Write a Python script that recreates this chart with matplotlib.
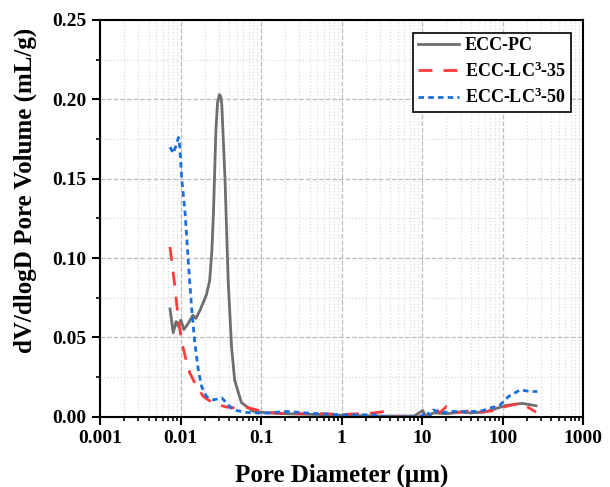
import matplotlib
matplotlib.use('Agg')
import matplotlib.pyplot as plt
from matplotlib.ticker import LogLocator, MultipleLocator, FixedLocator

plt.rcParams['font.family'] = ['Liberation Serif', 'DejaVu Serif']
plt.rcParams['font.weight'] = 'bold'
plt.rcParams['mathtext.fontset'] = 'custom'
plt.rcParams['mathtext.rm'] = 'Liberation Serif:bold'
plt.rcParams['mathtext.it'] = 'Liberation Serif:bold'
plt.rcParams['mathtext.bf'] = 'Liberation Serif:bold'

# pore diameter (um) and dV/dlogD (mL/g)
pc_d = [0.0074, 0.0081, 0.0088, 0.0094, 0.0101, 0.011, 0.0125, 0.0142, 0.0155, 0.0174,
        0.021, 0.023, 0.0245, 0.0256, 0.0275, 0.0288, 0.0303, 0.0315, 0.0325, 0.0357, 0.039,
        0.043, 0.047, 0.057, 0.08, 0.12, 0.2, 0.5, 1, 3, 8, 9.5, 10.2, 11, 14, 20, 30, 40,
        60, 80, 110, 175, 260]
pc_v = [0.068, 0.053, 0.060, 0.057, 0.061, 0.055, 0.059, 0.064, 0.062, 0.067,
        0.077, 0.086, 0.105, 0.128, 0.181, 0.198, 0.203, 0.202, 0.197, 0.149, 0.086,
        0.044, 0.023, 0.009, 0.0035, 0.0025, 0.002, 0.0015, 0.001, 0.0005, 0.0005, 0.003,
        0.004, 0.0005, 0.0025, 0.002, 0.003, 0.0025, 0.003, 0.005, 0.0072, 0.0085, 0.007]

lc35_d = [0.0074, 0.0085, 0.0094, 0.0103, 0.0114, 0.013, 0.0159, 0.0192, 0.0256, 0.037,
          0.05, 0.066, 0.106, 0.156, 0.3, 0.6, 1, 2.3, 3.5, 4, 12.6, 14.5, 16.5, 20, 23,
          30, 40, 50, 80, 100, 130, 170, 260]
lc35_v = [0.107, 0.082, 0.061, 0.048, 0.038, 0.0277, 0.019, 0.0128, 0.0085, 0.0062,
          0.0055, 0.006, 0.0034, 0.0023, 0.002, 0.002, 0.0015, 0.0023, 0.0034, 0.0, 0.0,
          0.0055, 0.0025, 0.0065, 0.0025, 0.003, 0.004, 0.003, 0.004, 0.006, 0.0075,
          0.0086, 0.003]

lc50_d = [0.0074, 0.0081, 0.0088, 0.0094, 0.0098, 0.0103, 0.0114, 0.0125, 0.0137, 0.015,
          0.0166, 0.0183, 0.021, 0.0256, 0.0325, 0.039, 0.045, 0.066, 0.106, 0.21, 0.4,
          0.95, 2.5, 3.6, 9, 10.2, 11.3, 12.6, 13.9, 16.5, 24, 35, 52, 70, 93, 118, 165,
          220, 270]
lc50_v = [0.170, 0.166, 0.171, 0.176, 0.170, 0.151, 0.128, 0.097, 0.069, 0.047,
          0.0296, 0.019, 0.0128, 0.0107, 0.012, 0.0076, 0.0044, 0.0028, 0.0023, 0.0034,
          0.0023, 0.0013, 0.0013, 0.0, 0.0, 0.001, 0.0034, 0.001, 0.0044, 0.0025, 0.0034,
          0.0034, 0.0034, 0.0055, 0.0075, 0.0128, 0.017, 0.016, 0.016]

fig = plt.figure(figsize=(6.1, 4.87), dpi=100)
ax = fig.add_axes([0.164, 0.144, 0.792, 0.815])

ax.plot(pc_d, pc_v, color='#6e6e6e', lw=2, ls='-', label='ECC-PC')
ax.plot(lc35_d, lc35_v, color='#ff3b3b', lw=2, ls=(0, (5, 4)), label='ECC-LC$^3$-35')
ax.plot(lc50_d, lc50_v, color='#1a6fe0', lw=2, ls=(0, (2, 1.5)), label='ECC-LC$^3$-50')

ax.set_xscale('log')
ax.set_xlim(0.001, 1000)
ax.set_ylim(0, 0.25)
ax.xaxis.set_major_locator(FixedLocator([0.001, 0.01, 0.1, 1, 10, 100, 1000]))
ax.set_xticklabels(['0.001', '0.01', '0.1', '1', '10', '100', '1000'])
ax.xaxis.set_minor_locator(LogLocator(base=10, subs=range(2, 10), numticks=20))
ax.yaxis.set_major_locator(MultipleLocator(0.05))
ax.yaxis.set_minor_locator(MultipleLocator(0.025))
ax.yaxis.set_major_formatter(plt.FormatStrFormatter('%.2f'))

ax.grid(which='major', ls='--', color='#bdbdbd', lw=0.9)
ax.grid(which='minor', ls=':', color='#dadada', lw=0.9)
ax.set_axisbelow(True)

for s in ax.spines.values():
    s.set_linewidth(1.5)
ax.tick_params(which='major', direction='out', length=6, width=1.5, labelsize=14)
ax.tick_params(which='minor', direction='out', length=3, width=1.2)

ax.set_xlabel('Pore Diameter (µm)', fontsize=18, fontweight='bold')
ax.set_ylabel('dV/dlogD Pore Volume (mL/g)', fontsize=18, fontweight='bold')
ax.xaxis.set_label_coords(0.5, -0.118)
ax.yaxis.set_label_coords(-0.13, 0.57)

leg = ax.legend(loc='upper right', fontsize=13, fancybox=False, edgecolor='black',
                handlelength=2.3, handletextpad=0.3, borderpad=0.25,
                borderaxespad=0.7, labelspacing=0.4, framealpha=1)
leg.get_frame().set_linewidth(1.2)

fig.savefig('out.png', dpi=100)
